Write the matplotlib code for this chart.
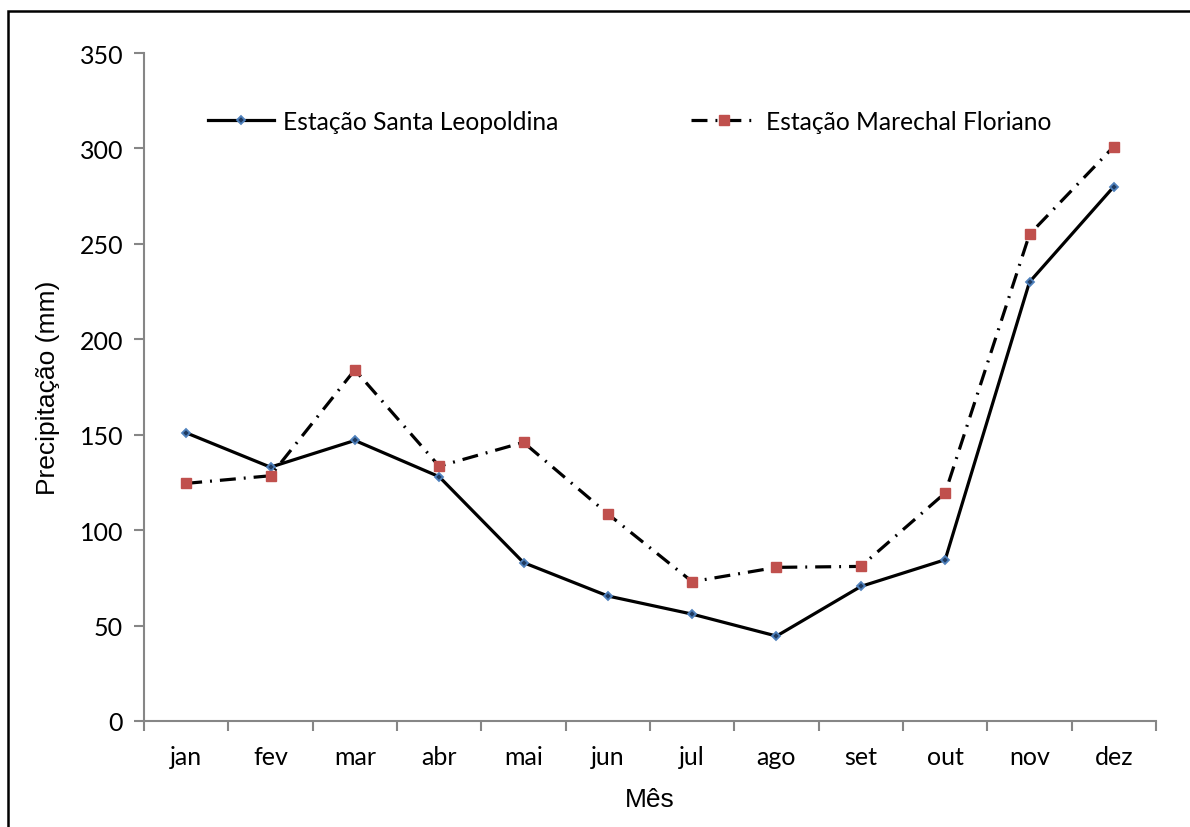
import numpy as np
import matplotlib.pyplot as plt
from matplotlib.patches import Rectangle

# dados
meses = ['jan', 'fev', 'mar', 'abr', 'mai', 'jun', 'jul', 'ago', 'set', 'out', 'nov', 'dez']
santa_leopoldina = [151, 133, 147, 128, 83, 65.5, 56, 44.5, 70.5, 84.5, 230, 280]
marechal_floriano = [124.5, 128.5, 184, 133.5, 146, 108.5, 73, 80.5, 81, 119.5, 255, 301]
yticks = [0, 50, 100, 150, 200, 250, 300, 350]

fonte = ['Lato', 'DejaVu Sans']
fonte_eixo = ['Liberation Sans', 'DejaVu Sans']
cinza = '#868686'

fig = plt.figure(figsize=(11.9, 8.28), dpi=100)
ax = fig.add_axes([144/1190, 1 - 722/828, (1156 - 144)/1190, (722 - 54)/828])

x = np.arange(len(meses))
ax.plot(x, santa_leopoldina, color='black', linewidth=2.3,
        marker='D', markersize=4.5, markerfacecolor='#1f3a5f',
        markeredgecolor='#4F81BD', markeredgewidth=1.3,
        label='Estação Santa Leopoldina')
ax.plot(x, marechal_floriano, color='black', linewidth=2.3,
        dashes=(5, 2.5, 0.6, 2.5),
        marker='s', markersize=7.5, markerfacecolor='#C0504D',
        markeredgecolor='#C0504D', label='Estação Marechal Floriano')

ax.set_xlim(-0.5, len(meses) - 0.5)
ax.set_ylim(0, 350)
ax.set_yticks(yticks)
ax.set_yticklabels([str(v) for v in yticks], family=fonte, fontsize=18)
ax.set_xticks(x)
ax.set_xticklabels(meses, family=fonte, fontsize=18)
ax.set_xticks(np.arange(-0.5, len(meses)), minor=True)
ax.tick_params(axis='x', which='major', length=0, pad=17)
ax.tick_params(axis='x', which='minor', length=7, width=1.5, color=cinza, direction='out')
ax.tick_params(axis='y', length=7, width=1.5, color=cinza, direction='out', pad=8)

for s in ['top', 'right']:
    ax.spines[s].set_visible(False)
for s in ['left', 'bottom']:
    ax.spines[s].set_color(cinza)
    ax.spines[s].set_linewidth(1.5)

ax.set_ylabel('Precipitação (mm)', family=fonte_eixo, fontsize=19, labelpad=14)
ax.set_xlabel('Mês', family=fonte_eixo, fontsize=19, labelpad=14)

ax.legend(loc='center left', bbox_to_anchor=(0.063, 1 - (122 - 54)/668), ncol=2, frameon=False,
          prop={'family': fonte, 'size': 17.7}, handlelength=2.7, handletextpad=0.35,
          columnspacing=5.4, borderpad=0, borderaxespad=0)

# moldura
fig.patches.append(Rectangle((8/1190, -0.1), 1.2, 1 - 12/828 + 0.1, transform=fig.transFigure,
                             fill=False, edgecolor='black', linewidth=1.8))

fig.savefig('out.png', dpi=100)
